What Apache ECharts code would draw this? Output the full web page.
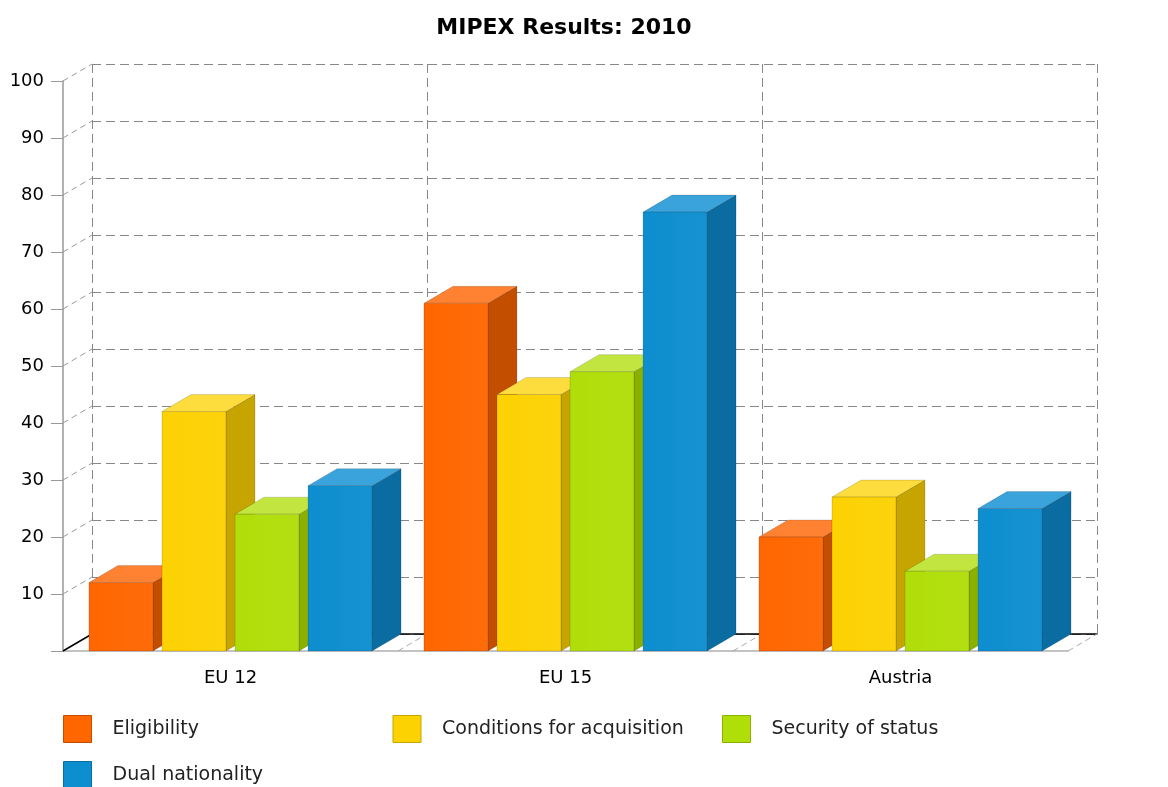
<!DOCTYPE html>
<html>
<head>
<meta charset="utf-8">
<script src="https://cdn.jsdelivr.net/npm/echarts@6/dist/echarts.min.js"></script>
<style>
  html, body { margin: 0; padding: 0; background: #fff; }
  #main { width: 1168px; height: 787px; }
</style>
</head>
<body>
<div id="main"></div>
<script>
var categories = ['EU 12', 'EU 15', 'Austria'];
var seriesNames = ['Eligibility', 'Conditions for acquisition', 'Security of status', 'Dual nationality'];
var eligibility = [12, 61, 20];
var conditions = [42, 45, 27];
var security = [24, 49, 14];
var dualNationality = [29, 77, 25];
var gridValues = [0, 10, 20, 30, 40, 50, 60, 70, 80, 90, 100];

// colours: front, top, side
var palette = [
    ['#FF6600', '#FF8233', '#C44E00'],
    ['#FCD202', '#FDDC3E', '#C7A500'],
    ['#B0DE09', '#C2E63F', '#8AB000'],
    ['#0D8ECF', '#3BA3DB', '#0A6CA0']
];

// 3d depth of the plot
var DX = 29, DY = 17;
var FONT = 'DejaVu Sans';

var chartDom = document.getElementById('main');
var myChart = echarts.init(chartDom);
var option;

function barRender(idx) {
    return function (params, api) {
        var cat = api.value(0);
        var base = api.coord([cat, 0]);
        var top = api.coord([cat, api.value(1)]);
        var band = api.size([1, 0])[0];
        var step = band * 0.218;
        var w = band * 0.191;
        var x0 = base[0] + (idx - 1.5) * step - w / 2;
        var yt = top[1], yb = base[1];
        var c = palette[idx];
        var edge = 'rgba(0,0,0,0.18)';
        return {
            type: 'group',
            children: [
                {
                    type: 'polygon',
                    shape: { points: [[x0 + w, yt], [x0 + w + DX, yt - DY], [x0 + w + DX, yb - DY], [x0 + w, yb]] },
                    style: { fill: c[2], stroke: edge, lineWidth: 0.8 }
                },
                {
                    type: 'polygon',
                    shape: { points: [[x0, yt], [x0 + DX, yt - DY], [x0 + w + DX, yt - DY], [x0 + w, yt]] },
                    style: { fill: c[1], stroke: edge, lineWidth: 0.8 }
                },
                {
                    type: 'rect',
                    shape: { x: x0, y: yt, width: w, height: yb - yt },
                    style: {
                        fill: new echarts.graphic.LinearGradient(0, 0, 1, 0, [
                            { offset: 0, color: c[0] },
                            { offset: 1, color: echarts.color.lift(c[0], 0.04) }
                        ]),
                        stroke: edge, lineWidth: 0.8
                    }
                }
            ]
        };
    };
}

var seriesData = [eligibility, conditions, security, dualNationality];

var barSeries = seriesNames.map(function (name, i) {
    return {
        name: name,
        type: 'custom',
        xAxisIndex: 0,
        yAxisIndex: 0,
        clip: false,
        itemStyle: { color: palette[i][0] },
        encode: { x: 0, y: 1 },
        renderItem: barRender(i),
        data: seriesData[i].map(function (v, k) { return [k, v]; })
    };
});

option = {
    animation: false,
    title: {
        text: 'MIPEX Results: 2010',
        left: 559,
        textAlign: 'center',
        top: 12,
        textStyle: { fontFamily: FONT, fontSize: 22, fontWeight: 'bold', color: '#000' }
    },
    legend: {
        data: seriesNames.map(function (n, i) {
            return { name: n, itemStyle: { borderColor: palette[i][2], borderWidth: 1 } };
        }),
        icon: 'rect',
        left: 63,
        top: 706,
        padding: 0,
        itemGap: 0,
        itemWidth: 28,
        itemHeight: 27,
        selectedMode: false,
        textStyle: {
            fontFamily: FONT, fontSize: 19, color: '#222',
            width: 280, lineHeight: 42, padding: [4, 0, 0, 16]
        }
    },
    grid: [
        { left: 63, right: 100, top: 81, bottom: 136 },
        { left: 92, right: 71, top: 64, bottom: 153 }
    ],
    xAxis: [
        {
            type: 'category',
            gridIndex: 0,
            data: categories,
            axisLine: { lineStyle: { color: '#b0b0b0', width: 1.5 } },
            axisTick: { alignWithLabel: true, length: 13, lineStyle: { color: '#999' } },
            axisLabel: { fontFamily: FONT, fontSize: 18, color: '#000', margin: 18 },
            splitLine: { show: false }
        },
        {
            type: 'category',
            gridIndex: 1,
            data: categories,
            silent: true,
            axisLine: { lineStyle: { color: '#000', width: 1.5 } },
            axisTick: { show: false },
            axisLabel: { show: false },
            splitLine: { show: true, interval: 0, lineStyle: { color: '#888', type: [9, 5], width: 1 } }
        }
    ],
    yAxis: [
        {
            type: 'value',
            gridIndex: 0,
            min: 0,
            max: 100,
            interval: 10,
            axisLine: { show: true, lineStyle: { color: '#999', width: 1.5 } },
            axisTick: { show: true, length: 12, lineStyle: { color: '#999' } },
            axisLabel: {
                fontFamily: FONT, fontSize: 18, color: '#000', margin: 19,
                formatter: function (v) { return v === 0 ? '' : v; }
            },
            splitLine: { show: false }
        },
        {
            type: 'value',
            gridIndex: 1,
            min: 0,
            max: 100,
            interval: 10,
            silent: true,
            axisLine: { show: false },
            axisTick: { show: false },
            axisLabel: { show: false },
            splitLine: { show: true, lineStyle: { color: '#888', type: [9, 5], width: 1 } }
        }
    ],
    series: [
        {
            // diagonal lines from the front axis to the back wall
            type: 'custom',
            silent: true,
            clip: false,
            encode: { x: 0, y: 1 },
            renderItem: function (params, api) {
                var v = api.value(1);
                var p = api.coord([0, v]);
                var x = p[0] - api.size([1, 0])[0] / 2;
                var zero = v === 0;
                return {
                    type: 'line',
                    shape: { x1: x, y1: p[1], x2: x + DX, y2: p[1] - DY },
                    style: zero
                        ? { stroke: '#000', lineWidth: 1.5 }
                        : { stroke: '#999', lineWidth: 1, lineDash: [6, 4] }
                };
            },
            data: gridValues.map(function (v) { return [0, v]; })
        },
        {
            // floor lines at category boundaries
            type: 'custom',
            silent: true,
            clip: false,
            encode: { x: 0, y: 1 },
            renderItem: function (params, api) {
                var p = api.coord([api.value(0), 0]);
                var x = p[0] + api.size([1, 0])[0] / 2;
                return {
                    type: 'line',
                    shape: { x1: x, y1: p[1], x2: x + DX, y2: p[1] - DY },
                    style: { stroke: '#aaa', lineWidth: 1, lineDash: [6, 4] }
                };
            },
            data: categories.map(function (c, k) { return [k, 0]; })
        }
    ].concat(barSeries)
};

option && myChart.setOption(option);
</script>
</body>
</html>
